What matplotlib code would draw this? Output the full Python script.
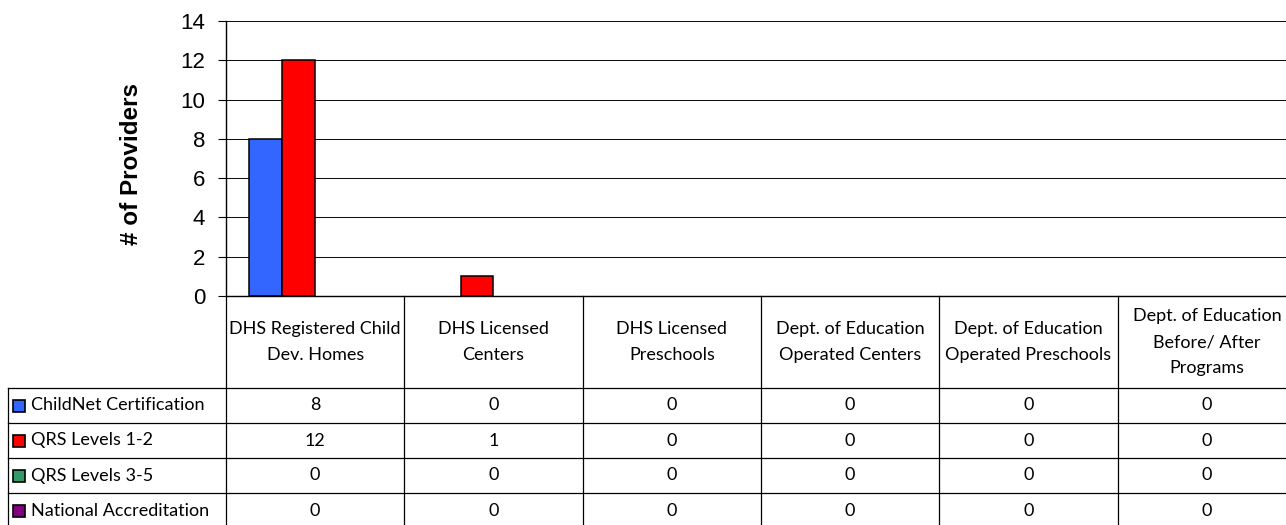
import matplotlib.pyplot as plt

# chart data
categories = ["DHS Registered Child\nDev. Homes", "DHS Licensed\nCenters",
              "DHS Licensed\nPreschools", "Dept. of Education\nOperated Centers",
              "Dept. of Education\nOperated Preschools",
              "Dept. of Education\nBefore/ After\nPrograms"]
series_names = ["ChildNet Certification", "QRS Levels 1-2",
                "QRS Levels 3-5", "National Accreditation"]
childnet = [8, 0, 0, 0, 0, 0]
qrs_1_2 = [12, 1, 0, 0, 0, 0]
qrs_3_5 = [0, 0, 0, 0, 0, 0]
national = [0, 0, 0, 0, 0, 0]
series_values = [childnet, qrs_1_2, qrs_3_5, national]
colors = ['#3366FF', '#FF0000', '#339966', '#800080']

W, H = 1286, 525
fig = plt.figure(figsize=(W / 100, H / 100), dpi=100)

# main chart area (runs slightly past the right edge, like the original)
ax = fig.add_axes([226 / W, 1 - 296 / H, 1070 / W, 275 / H])
n = len(categories)
bw = 0.185
for k, vals in enumerate(series_values):
    xs = [i + 0.5 + (k - 1.5) * bw for i in range(n)]
    # zero bars are not drawn at all in the original
    lws = [1.1 if v > 0 else 0 for v in vals]
    ax.bar(xs, vals, width=bw, color=colors[k], edgecolor='black',
           linewidth=lws, zorder=3)

ax.set_xlim(0, n)
ax.set_ylim(0, 14)
ax.set_yticks(range(0, 15, 2))
ax.set_xticks([])
ax.yaxis.grid(True, color='#111111', linewidth=0.75, zorder=0)
ax.tick_params(axis='y', direction='out', length=6, width=0.8, pad=9,
               labelsize=16)
for lab in ax.get_yticklabels():
    lab.set_fontfamily('Liberation Sans')
for s in ['top', 'right']:
    ax.spines[s].set_visible(False)
ax.spines['left'].set_linewidth(1.0)
ax.spines['bottom'].set_linewidth(1.0)
ax.spines['left'].set_zorder(4)
ax.spines['bottom'].set_zorder(4)
ax.set_ylabel('# of Providers', fontsize=17.5, fontweight='bold',
              family='Liberation Sans', va='center')
ax.yaxis.set_label_coords((132 - 226) / 1070, (296 - 164) / 275)

# data table under the chart, in pixel coordinates
tab = fig.add_axes([0, 0, 1, 1])
tab.set_xlim(0, W)
tab.set_ylim(H, 0)
tab.axis('off')

def to_px(x):
    return ax.transData.transform((x, 0))[0]

col_edges = [to_px(i) for i in range(n + 1)]
top_y, head_y, row_h = 296, 388, 35
left_x = 8
bottom_y = head_y + row_h * len(series_names)
lc = 'black'
lw = 0.9
tfont = 'Lato'
tsize = 13

for xe in col_edges:
    tab.plot([xe, xe], [top_y, bottom_y], color=lc, lw=lw)
tab.plot([left_x, left_x], [head_y, bottom_y], color=lc, lw=lw)
for r in range(len(series_names) + 1):
    y = head_y + r * row_h
    tab.plot([left_x, col_edges[-1]], [y, y], color=lc, lw=lw)

for i, cat in enumerate(categories):
    cx = (col_edges[i] + col_edges[i + 1]) / 2
    tab.text(cx, (top_y + head_y) / 2, cat, ha='center', va='center',
             fontsize=tsize, family=tfont, linespacing=1.75)

for r, name in enumerate(series_names):
    cy = head_y + (r + 0.5) * row_h
    tab.add_patch(plt.Rectangle((13, cy - 6), 12, 12, facecolor=colors[r],
                                edgecolor='black', linewidth=1.2))
    tab.text(31, cy, name, ha='left', va='center', fontsize=tsize,
             family=tfont)
    for i, v in enumerate(series_values[r]):
        cx = (col_edges[i] + col_edges[i + 1]) / 2
        tab.text(cx, cy, str(v), ha='center', va='center', fontsize=tsize,
                 family=tfont)

fig.savefig('out.png', dpi=100)
